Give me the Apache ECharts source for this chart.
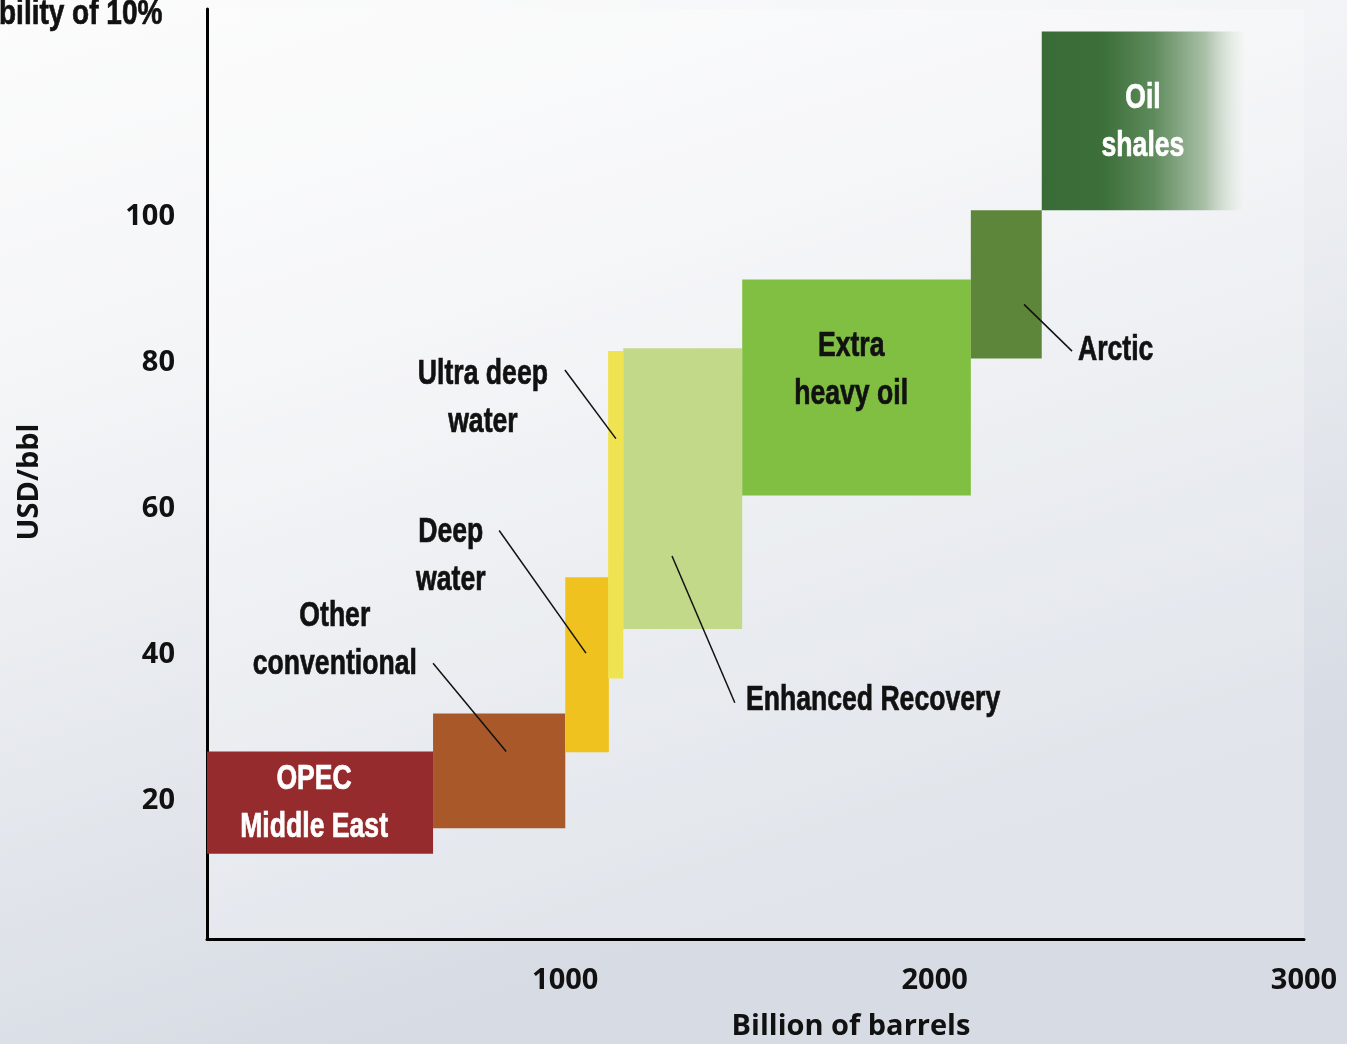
<!DOCTYPE html>
<html>
<head>
<meta charset="utf-8">
<title>Oil supply cost curve</title>
<script src="https://cdn.jsdelivr.net/npm/echarts@6/dist/echarts.min.js"></script>
<style>
html, body { margin: 0; padding: 0; }
#chart { width: 1347px; height: 1044px; }
</style>
</head>
<body>
<div id="chart"></div>
<script>
// resource blocks: cumulative volume (billion bbl) against cost (USD/bbl)
const resources = ['OPEC\nMiddle East', 'Other\nconventional', 'Deep\nwater', 'Ultra deep\nwater', 'Enhanced Recovery', 'Extra\nheavy oil', 'Arctic', 'Oil\nshales']
const volStart = [30, 642, 1000, 1116, 1157, 1479, 2098, 2290]
const volEnd = [642, 1000, 1118, 1157, 1479, 2098, 2290, 2842]
const costLow = [12.7, 16.2, 26.6, 36.7, 43.5, 61.8, 80.6, 100.9]
const costHigh = [26.7, 31.9, 50.6, 81.6, 82.0, 91.4, 100.9, 125.4]

const xTicks = [1000, 2000, 3000]
const yTicks = [20, 40, 60, 80, 100]

// where each block's name sits (data coords)
const labelX = [320, 376, 690, 777, 1489, 1774, 2388, 2564]
const labelY = [19.6, 41.9, 53.5, 75.1, 33.7, 79.0, 81.7, 113.0]

// leader lines for names placed outside their block
const leaderFrom = [[642, 38.8], [821, 57.0], [999, 79.0], [1289, 53.5], [2242, 88.0]]
const leaderTo = [[840, 26.7], [1056, 40.2], [1137, 69.6], [1459, 33.4], [2372, 81.6]]

const shaleFill = {
  type: 'linear', x: 0, y: 0, x2: 1, y2: 0,
  colorStops: [
    { offset: 0, color: '#386b35' },
    { offset: 0.3, color: '#3c6f39' },
    { offset: 0.55, color: '#5f8b5c' },
    { offset: 0.8, color: '#a9c0a7' },
    { offset: 1, color: 'rgba(246,247,246,0.5)' }
  ]
}
const blockColors = ['#952b2c', '#a9582a', '#efc21f', '#f0e352', '#c3d98a', '#80bf42', '#5e863b', shaleFill]
const labelFill = ['#fff', '#111', '#111', '#111', '#111', '#111', '#111', '#fff']
const labelAlign = ['center', 'center', 'center', 'center', 'left', 'center', 'left', 'center']

// no condensed face installed, so squeeze Liberation Sans horizontally
const narrowFont = 'bold 35px "Liberation Sans", Arial, sans-serif'
const squeeze = 0.76
const axisFont = '"Open Sans", "Noto Sans", sans-serif'

const chart = echarts.init(document.getElementById('chart'))

chart.setOption({
  animation: false,
  backgroundColor: {
    type: 'linear', x: 0, y: 0, x2: 0.25, y2: 1,
    colorStops: [
      { offset: 0, color: '#fcfcfc' },
      { offset: 0.35, color: '#f4f5f7' },
      { offset: 1, color: '#d7dce4' }
    ]
  },
  grid: {
    left: 207, right: 43, top: 9, bottom: 105,
    show: true, backgroundColor: 'rgba(255,255,255,0.25)', borderWidth: 0
  },
  xAxis: {
    type: 'value', min: 30, max: 3000,
    axisLine: { onZero: false, lineStyle: { color: '#000', width: 3 } },
    axisTick: { show: false },
    splitLine: { show: false },
    axisLabel: {
      customValues: xTicks, formatter: v => String(v), color: '#111',
      fontFamily: axisFont, fontWeight: 'bold', fontSize: 29, margin: 27
    }
  },
  yAxis: {
    type: 'value', min: 1, max: 128.5,
    axisLine: { show: true, onZero: false, lineStyle: { color: '#000', width: 3 } },
    axisTick: { show: false },
    splitLine: { show: false },
    axisLabel: {
      customValues: yTicks, formatter: v => String(v), color: '#111',
      fontFamily: axisFont, fontWeight: 'bold', fontSize: 29, margin: 32
    }
  },
  graphic: [
    {
      type: 'text', x: -1, y: 14, scaleX: 0.8,
      style: { text: 'bility of 10%', fill: '#111', stroke: '#111', lineWidth: 0.7, font: narrowFont, verticalAlign: 'middle', textVerticalAlign: 'middle' }
    },
    {
      type: 'text', x: 30, y: 482, rotation: Math.PI / 2,
      style: { text: 'USD/bbl', fill: '#111', font: 'bold 29px ' + axisFont, align: 'center', textAlign: 'center', verticalAlign: 'middle', textVerticalAlign: 'middle' }
    },
    {
      type: 'text', x: 851, y: 1027,
      style: { text: 'Billion of barrels', fill: '#111', font: 'bold 29px ' + axisFont, align: 'center', textAlign: 'center', verticalAlign: 'middle', textVerticalAlign: 'middle' }
    }
  ],
  series: [
    {
      type: 'custom',
      name: 'blocks',
      silent: true,
      encode: { x: [0, 1], y: [2, 3] },
      data: resources.map((n, i) => [volStart[i], volEnd[i], costLow[i], costHigh[i]]),
      renderItem: (params, api) => {
        const i = params.dataIndex
        const p0 = api.coord([api.value(0), api.value(3)])
        const p1 = api.coord([api.value(1), api.value(2)])
        return {
          type: 'rect',
          shape: { x: p0[0], y: p0[1], width: p1[0] - p0[0], height: p1[1] - p0[1] },
          style: { fill: blockColors[i] }
        }
      },
      z: 2
    },
    {
      type: 'lines',
      coordinateSystem: 'cartesian2d',
      silent: true,
      data: leaderFrom.map((a, i) => ({ coords: [a, leaderTo[i]] })),
      lineStyle: { color: '#111', width: 1.5, opacity: 1 },
      z: 4
    },
    {
      type: 'custom',
      name: 'names',
      silent: true,
      encode: { x: 0, y: 1 },
      data: labelX.map((x, i) => [x, labelY[i]]),
      renderItem: (params, api) => {
        const i = params.dataIndex
        const p = api.coord([api.value(0), api.value(1)])
        return {
          type: 'text',
          x: p[0], y: p[1], scaleX: squeeze,
          style: {
            text: resources[i], fill: labelFill[i],
            stroke: labelFill[i], lineWidth: 0.7,
            font: narrowFont, lineHeight: 48,
            align: labelAlign[i], textAlign: labelAlign[i],
            verticalAlign: 'middle', textVerticalAlign: 'middle'
          }
        }
      },
      z: 5
    }
  ]
})
</script>
</body>
</html>
